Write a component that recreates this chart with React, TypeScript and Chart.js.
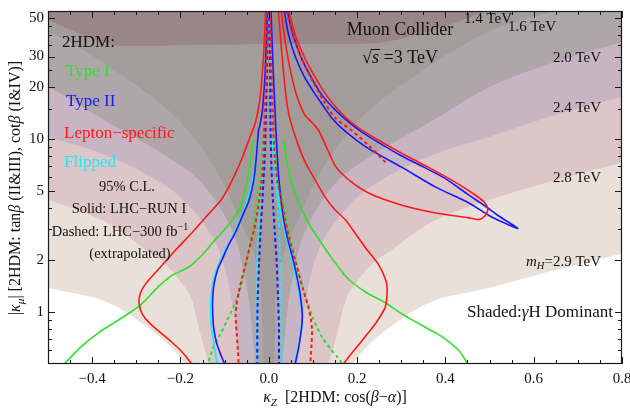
import React, { useEffect, useRef } from 'react';
import { Chart, registerables } from 'chart.js';

Chart.register(...registerables);

// ---------- axes ----------
const xTickValues = [-0.4, -0.2, 0, 0.2, 0.4, 0.6, 0.8];
const xMinorValues = [-0.45, -0.35, -0.3, -0.25, -0.15, -0.1, -0.05, 0.05, 0.1, 0.15, 0.25, 0.3, 0.35, 0.45, 0.5, 0.55, 0.65, 0.7, 0.75];
const yTickValues = [1, 2, 5, 10, 20, 30, 50];
const yMinorValues = [0.6, 0.7, 0.8, 0.9, 3, 4, 6, 7, 8, 9, 15, 25, 35, 40, 45];

// ---------- shaded gamma-H dominant regions (boundary: |kZ| -> |kmu|, symmetric) ----------
const shade29Abs = [0.17, 0.19, 0.22, 0.27, 0.36, 0.5, 0.65, 0.8];
const shade29Mu = [0.42, 0.5, 0.62, 0.8, 1.12, 1.38, 1.75, 2.17];
const shade28Abs = [0.12, 0.135, 0.155, 0.174, 0.2, 0.24, 0.28, 0.35, 0.4, 0.5, 0.65, 0.8];
const shade28Mu = [0.42, 0.5, 0.75, 1.17, 1.5, 1.95, 2.3, 3.1, 3.6, 4.45, 5.8, 7.3];
const shade24Abs = [0.055, 0.065, 0.075, 0.084, 0.097, 0.113, 0.15, 0.2, 0.3, 0.4, 0.5, 0.65, 0.8];
const shade24Mu = [0.42, 0.5, 0.8, 1.17, 1.7, 2.28, 3.3, 4.6, 6.7, 8.6, 10.3, 13.8, 17.5];
const shade20Abs = [0.025, 0.03, 0.038, 0.045, 0.055, 0.068, 0.1, 0.15, 0.25, 0.36, 0.5, 0.65, 0.8];
const shade20Mu = [0.42, 0.5, 0.8, 1.17, 1.6, 2.3, 3.6, 5.5, 8.5, 12.3, 20, 28, 36.4];
const shade16Abs = [0.01, 0.012, 0.016, 0.03, 0.045, 0.064, 0.11, 0.2, 0.35, 0.5, 0.65, 0.8];
const shade16Mu = [0.42, 0.5, 1.17, 2.0, 2.6, 3.3, 6, 12.5, 25, 42, 55, 70];
const shade14X = [-0.5, -0.45, -0.4, -0.35, -0.3, -0.2, 0, 0.2, 0.25, 0.3, 0.35, 0.4, 0.45, 0.5, 0.55];
const shade14Mu = [49, 43, 38, 35, 34.5, 34.8, 35.5, 35.5, 36, 38, 41, 45, 50, 56, 62];

// ---------- Type I (green) ----------
const greenSolidLeftX = [-0.035, -0.042, -0.048, -0.056, -0.063, -0.075, -0.086, -0.105, -0.125, -0.15, -0.177, -0.2, -0.22, -0.25, -0.29, -0.34, -0.385, -0.425, -0.46, -0.475];
const greenSolidLeftY = [9.85, 7.5, 5.8, 4.8, 4.1, 3.6, 3.3, 2.9, 2.55, 2.15, 1.85, 1.72, 1.62, 1.4, 1.1, 0.9, 0.76, 0.63, 0.51, 0.48];
const greenSolidRightX = [0.033, 0.042, 0.05, 0.058, 0.065, 0.08, 0.095, 0.113, 0.14, 0.151, 0.17, 0.188, 0.22, 0.264, 0.3, 0.325, 0.36, 0.392, 0.43, 0.449, 0.455];
const greenSolidRightY = [9.85, 7.2, 5.8, 5.0, 4.44, 3.7, 3.1, 2.65, 2.09, 1.92, 1.65, 1.49, 1.3, 1.13, 0.98, 0.9, 0.8, 0.72, 0.6, 0.51, 0.49];
const greenDashLeftX = [-0.012, -0.015, -0.019, -0.026, -0.033, -0.041, -0.05, -0.063, -0.078, -0.094, -0.11, -0.125, -0.136, -0.14];
const greenDashLeftY = [10, 8, 6, 4.6, 3.4, 2.5, 2.0, 1.4, 1.1, 0.9, 0.74, 0.63, 0.52, 0.48];
const greenDashRightX = [0.014, 0.017, 0.021, 0.031, 0.04, 0.05, 0.06, 0.072, 0.085, 0.1, 0.12, 0.14, 0.155, 0.167, 0.172];
const greenDashRightY = [10, 8, 6.2, 4.6, 3.4, 2.6, 2.0, 1.53, 1.2, 0.92, 0.72, 0.61, 0.55, 0.5, 0.48];

// ---------- Type II (blue) ----------
const blueSolidLeftX = [-0.003, -0.008, -0.014, -0.02, -0.023, -0.028, -0.034, -0.045, -0.057, -0.075, -0.093, -0.106, -0.116, -0.124, -0.127, -0.127, -0.125, -0.118, -0.108, -0.1, -0.098];
const blueSolidLeftY = [55, 25, 15, 12, 11.3, 8, 5.8, 4.4, 3.73, 2.9, 2.38, 2.0, 1.75, 1.45, 1.2, 1.0, 0.82, 0.66, 0.56, 0.5, 0.48];
const blueSolidRightX = [0.005, 0.01, 0.014, 0.016, 0.02, 0.023, 0.03, 0.038, 0.047, 0.057, 0.066, 0.072, 0.076, 0.074, 0.068, 0.062, 0.058];
const blueSolidRightY = [55, 25, 15, 11.3, 7.5, 5.8, 4.0, 3.0, 2.4, 1.92, 1.5, 1.22, 0.95, 0.8, 0.63, 0.53, 0.48];
const blueLoopX = [0.035, 0.045, 0.06, 0.08, 0.1, 0.12, 0.143, 0.175, 0.226, 0.3, 0.378, 0.453, 0.5, 0.53, 0.564, 0.52, 0.49, 0.45, 0.4, 0.35, 0.3, 0.25, 0.21, 0.18, 0.15, 0.12, 0.095, 0.075, 0.055, 0.042];
const blueLoopY = [55, 40, 30, 23, 19, 16, 13.2, 11.0, 8.8, 6.9, 5.27, 4.27, 3.6, 3.3, 3.04, 3.6, 4.1, 4.8, 5.9, 6.9, 8.0, 9.5, 11.0, 12.6, 14.8, 18, 23, 29, 40, 55];
const blueDashLeftX = [-0.002, -0.004, -0.006, -0.009, -0.014, -0.019, -0.022, -0.025, -0.026, -0.026];
const blueDashLeftY = [55, 25, 15, 8, 4.6, 2.8, 1.92, 1.2, 0.8, 0.48];
const blueDashRightX = [0.002, 0.003, 0.004, 0.006, 0.009, 0.014, 0.018, 0.021, 0.023, 0.023];
const blueDashRightY = [55, 25, 11.3, 7, 4.6, 2.8, 1.92, 1.2, 0.8, 0.48];

// ---------- Lepton-specific (red) ----------
const redSolidLeftX = [-0.007, -0.012, -0.02, -0.03, -0.041, -0.06, -0.077, -0.092, -0.108, -0.14, -0.175, -0.211, -0.245, -0.27, -0.287, -0.294, -0.29, -0.28, -0.265, -0.245, -0.22, -0.2, -0.177, -0.172];
const redSolidLeftY = [55, 30, 17, 12.5, 10.5, 7.8, 6.2, 5.2, 4.44, 3.6, 2.85, 2.28, 1.82, 1.55, 1.35, 1.17, 1.02, 0.92, 0.84, 0.76, 0.67, 0.6, 0.51, 0.48];
const redSolidRightX = [0.022, 0.028, 0.035, 0.042, 0.05, 0.065, 0.083, 0.105, 0.128, 0.15, 0.174, 0.2, 0.219, 0.249, 0.266, 0.268, 0.264, 0.245, 0.226, 0.2, 0.174, 0.168];
const redSolidRightY = [55, 35, 22, 15.5, 12.5, 9.5, 7.3, 5.8, 4.6, 3.9, 3.4, 2.75, 2.35, 1.87, 1.5, 1.3, 1.07, 0.88, 0.76, 0.63, 0.52, 0.49];
const redLoopX = [0.028, 0.035, 0.045, 0.06, 0.08, 0.1, 0.113, 0.135, 0.152, 0.185, 0.226, 0.3, 0.378, 0.453, 0.476, 0.49, 0.496, 0.49, 0.47, 0.424, 0.36, 0.3, 0.25, 0.21, 0.18, 0.155, 0.13, 0.1, 0.08, 0.06, 0.045];
const redLoopY = [55, 40, 28, 19, 14, 12.3, 11.2, 8.5, 6.9, 5.7, 4.87, 4.15, 3.73, 3.5, 3.42, 3.6, 3.9, 4.27, 4.7, 5.6, 6.9, 8.3, 9.8, 11.3, 12.9, 15, 18, 24, 30, 40, 55];
const redDashLeftX = [-0.003, -0.006, -0.01, -0.014, -0.02, -0.026, -0.033, -0.041, -0.05, -0.06, -0.068, -0.073, -0.075, -0.073, -0.07, -0.068];
const redDashLeftY = [55, 25, 12, 6.6, 4.8, 3.73, 3.0, 2.5, 2.0, 1.6, 1.3, 1.1, 0.95, 0.78, 0.6, 0.48];
const redDashRightX = [0.003, 0.006, 0.01, 0.014, 0.02, 0.027, 0.037, 0.047, 0.062, 0.078, 0.088, 0.095, 0.098, 0.097, 0.095, 0.094];
const redDashRightY = [55, 25, 12, 7.5, 5.6, 4.6, 3.4, 2.61, 1.9, 1.34, 1.1, 0.92, 0.78, 0.66, 0.55, 0.48];
const redDashLoopX = [0.04, 0.055, 0.075, 0.1, 0.125, 0.151, 0.188, 0.23, 0.265];
const redDashLoopY = [55, 40, 29, 21.5, 16.5, 13.2, 11.2, 9.0, 7.3];

// ---------- Flipped (cyan) ----------
const cyanSolidLeftX = [-0.025, -0.03, -0.037, -0.05, -0.062, -0.08, -0.098, -0.115, -0.126, -0.131, -0.132, -0.13, -0.124, -0.118, -0.115];
const cyanSolidLeftY = [9.9, 7.5, 5.8, 4.3, 3.6, 2.8, 2.3, 1.85, 1.5, 1.2, 1.0, 0.82, 0.65, 0.52, 0.48];
const cyanSolidRightX = [0.008, 0.012, 0.017, 0.025, 0.035, 0.048, 0.062, 0.072, 0.076, 0.074, 0.068, 0.06, 0.056];
const cyanSolidRightY = [9.9, 7.5, 5.8, 4.0, 3.0, 2.2, 1.55, 1.15, 0.95, 0.78, 0.64, 0.52, 0.48];
const cyanDashLeftX = [-0.011, -0.013, -0.016, -0.019, -0.022, -0.025, -0.027, -0.028, -0.029, -0.029];
const cyanDashLeftY = [10, 8, 6, 4.8, 3.7, 2.5, 1.6, 1.0, 0.7, 0.48];
const cyanDashRightX = [0.011, 0.013, 0.016, 0.02, 0.024, 0.027, 0.028, 0.029, 0.029];
const cyanDashRightY = [10, 8, 6, 4.6, 2.8, 1.6, 1.1, 0.7, 0.48];

// ---------- styling ----------
const GREEN = '#2ee02e';
const BLUE = '#1818ff';
const RED = '#ff1818';
const CYAN = '#18eef4';
const SERIF = '"Liberation Serif", "Times New Roman", serif';

const pts = (xs: number[], ys: number[]) => xs.map((x, i) => ({ x, y: ys[i] }));
const mirrored = (abs: number[], mu: number[]) => [
  ...abs.map((a, i) => ({ x: -a, y: mu[i] })).reverse(),
  ...abs.map((a, i) => ({ x: a, y: mu[i] })),
];

type Seg = { t: string; it?: boolean; sub?: boolean; sup?: boolean };

function segSize(size: number, s: Seg) {
  return s.sub || s.sup ? size * 0.7 : size;
}
function setFont(ctx: CanvasRenderingContext2D, size: number, s: Seg) {
  ctx.font = `${s.it ? 'italic ' : ''}${segSize(size, s).toFixed(1)}px ${SERIF}`;
}
function richWidth(ctx: CanvasRenderingContext2D, segs: Seg[], size: number) {
  let w = 0;
  for (const s of segs) {
    setFont(ctx, size, s);
    w += ctx.measureText(s.t).width;
  }
  return w;
}
function drawRich(
  ctx: CanvasRenderingContext2D,
  segs: Seg[],
  x: number,
  y: number,
  size: number,
  align: 'left' | 'center' | 'right',
  color: string
) {
  const w = richWidth(ctx, segs, size);
  let cx = align === 'left' ? x : align === 'center' ? x - w / 2 : x - w;
  ctx.textAlign = 'left';
  ctx.textBaseline = 'middle';
  ctx.fillStyle = color;
  const xs: number[] = [];
  for (const s of segs) {
    setFont(ctx, size, s);
    const dy = s.sub ? size * 0.3 : s.sup ? -size * 0.35 : 0;
    xs.push(cx);
    ctx.fillText(s.t, cx, y + dy);
    cx += ctx.measureText(s.t).width;
  }
  xs.push(cx);
  return xs;
}

const fmtX = (v: number) => {
  if (Math.abs(v) < 1e-9) return '0.0';
  const s = Math.abs(v).toFixed(1);
  return v < 0 ? '\u2212' + s : s;
};

const overlayPlugin = {
  id: 'overlay',
  afterDatasetsDraw(chart: any) {
    const { ctx, chartArea: a, scales } = chart;
    const xs = scales.x;
    const ys = scales.y;
    ctx.save();
    // frame
    ctx.strokeStyle = '#1a1a1a';
    ctx.lineWidth = 1.2;
    ctx.strokeRect(a.left + 0.5, a.top + 0.5, a.right - a.left - 1, a.bottom - a.top - 1);
    // ticks
    ctx.beginPath();
    ctx.lineWidth = 1;
    const xt = (v: number, len: number) => {
      const p = Math.round(xs.getPixelForValue(v)) + 0.5;
      ctx.moveTo(p, a.bottom);
      ctx.lineTo(p, a.bottom - len);
      ctx.moveTo(p, a.top);
      ctx.lineTo(p, a.top + len);
    };
    const yt = (v: number, len: number) => {
      const p = Math.round(ys.getPixelForValue(v)) + 0.5;
      ctx.moveTo(a.left, p);
      ctx.lineTo(a.left + len, p);
      ctx.moveTo(a.right, p);
      ctx.lineTo(a.right - len, p);
    };
    xTickValues.forEach((v) => xt(v, 7));
    xMinorValues.forEach((v) => xt(v, 4));
    yTickValues.forEach((v) => yt(v, 7));
    yMinorValues.forEach((v) => yt(v, 4));
    ctx.stroke();

    // legend texts
    drawRich(ctx, [{ t: '2HDM:' }], 62, 43, 17, 'left', '#111');
    drawRich(ctx, [{ t: 'Type I' }], 66, 72, 17, 'left', GREEN);
    drawRich(ctx, [{ t: 'Type II' }], 66, 102, 17, 'left', BLUE);
    drawRich(ctx, [{ t: 'Lepton\u2212specific' }], 64, 134, 17, 'left', RED);
    drawRich(ctx, [{ t: 'Flipped' }], 64, 163, 17, 'left', CYAN);
    drawRich(ctx, [{ t: '95% C.L.' }], 127, 187, 14.5, 'center', '#111');
    drawRich(ctx, [{ t: 'Solid: LHC\u2212RUN I' }], 129, 209, 14.5, 'center', '#111');
    drawRich(ctx, [{ t: 'Dashed: LHC\u2212300 fb' }, { t: '\u22121', sup: true }], 120, 232, 14.5, 'center', '#111');
    drawRich(ctx, [{ t: '(extrapolated)' }], 130, 254, 14.5, 'center', '#111');

    // collider info
    drawRich(ctx, [{ t: 'Muon Collider' }], 400, 30, 18, 'center', '#111');
    const sx = drawRich(ctx, [{ t: '\u221A' }, { t: 's', it: true }, { t: ' =3 TeV' }], 400, 58, 18, 'center', '#111');
    ctx.beginPath();
    ctx.strokeStyle = '#111';
    ctx.lineWidth = 1;
    ctx.moveTo(sx[1] - 1, 58 - 8.5);
    ctx.lineTo(sx[2] + 1, 58 - 8.5);
    ctx.stroke();

    // mass labels
    drawRich(ctx, [{ t: '1.4 TeV' }], 464, 19, 15, 'left', '#111');
    drawRich(ctx, [{ t: '1.6 TeV' }], 508, 27, 15, 'left', '#111');
    drawRich(ctx, [{ t: '2.0 TeV' }], 601, 58, 15, 'right', '#111');
    drawRich(ctx, [{ t: '2.4 TeV' }], 601, 108, 15, 'right', '#111');
    drawRich(ctx, [{ t: '2.8 TeV' }], 601, 178, 15, 'right', '#111');
    drawRich(ctx, [{ t: 'm', it: true }, { t: 'H', it: true, sub: true }, { t: '=2.9 TeV' }], 601, 262, 15, 'right', '#111');
    drawRich(ctx, [{ t: 'Shaded:' }, { t: '\u03B3', it: true }, { t: 'H Dominant' }], 613, 313, 17, 'right', '#111');

    // axis titles
    drawRich(
      ctx,
      [{ t: '\u03BA', it: true }, { t: 'Z', it: true, sub: true }, { t: '  [2HDM: cos(' }, { t: '\u03B2', it: true }, { t: '\u2212' }, { t: '\u03B1', it: true }, { t: ')]' }],
      335,
      398,
      16,
      'center',
      '#111'
    );
    ctx.save();
    ctx.translate(16, 188);
    ctx.rotate(-Math.PI / 2);
    drawRich(
      ctx,
      [
        { t: '|' },
        { t: '\u03BA', it: true },
        { t: '\u03BC', it: true, sub: true },
        { t: '| [2HDM: tan' },
        { t: '\u03B2', it: true },
        { t: ' (II&III), cot' },
        { t: '\u03B2', it: true },
        { t: ' (I&IV)]' },
      ],
      0,
      0,
      16,
      'center',
      '#111'
    );
    ctx.restore();
    ctx.restore();
  },
};

function band(data: any[], color: string, order: number) {
  return {
    data,
    borderWidth: 0,
    borderColor: 'rgba(0,0,0,0)',
    backgroundColor: color,
    fill: 'end',
    pointRadius: 0,
    cubicInterpolationMode: 'monotone',
    order,
  };
}

function curve(data: any[], color: string, dashed: boolean, order: number) {
  return {
    data,
    borderColor: color,
    borderWidth: dashed ? 2 : 1.6,
    borderDash: dashed ? [3.5, 3] : [],
    backgroundColor: color,
    fill: false,
    pointRadius: 0,
    tension: 0.25,
    order,
  };
}

export default function App() {
  const ref = useRef<HTMLCanvasElement | null>(null);
  useEffect(() => {
    if (!ref.current) return;
    const datasets: any[] = [
      band(mirrored(shade29Abs, shade29Mu), '#e9e1d9', 100),
      band(mirrored(shade28Abs, shade28Mu), '#dcc6c8', 99),
      band(mirrored(shade24Abs, shade24Mu), '#c8b5c3', 98),
      band(mirrored(shade20Abs, shade20Mu), '#afa6aa', 97),
      band(mirrored(shade16Abs, shade16Mu), '#a49c9a', 96),
      band(pts(shade14X, shade14Mu), '#988688', 95),

      curve(pts(greenSolidLeftX, greenSolidLeftY), GREEN, false, 10),
      curve(pts(greenSolidRightX, greenSolidRightY), GREEN, false, 10),
      curve(pts(greenDashLeftX, greenDashLeftY), GREEN, true, 9),
      curve(pts(greenDashRightX, greenDashRightY), GREEN, true, 9),

      curve(pts(cyanSolidLeftX, cyanSolidLeftY), CYAN, false, 8),
      curve(pts(cyanSolidRightX, cyanSolidRightY), CYAN, false, 8),
      curve(pts(cyanDashLeftX, cyanDashLeftY), CYAN, true, 7),
      curve(pts(cyanDashRightX, cyanDashRightY), CYAN, true, 7),

      curve(pts(blueSolidLeftX, blueSolidLeftY), BLUE, false, 6),
      curve(pts(blueSolidRightX, blueSolidRightY), BLUE, false, 6),
      curve(pts(blueLoopX, blueLoopY), BLUE, false, 6),
      curve(pts(blueDashLeftX, blueDashLeftY), BLUE, true, 5),
      curve(pts(blueDashRightX, blueDashRightY), BLUE, true, 5),

      curve(pts(redSolidLeftX, redSolidLeftY), RED, false, 4),
      curve(pts(redSolidRightX, redSolidRightY), RED, false, 4),
      curve(pts(redLoopX, redLoopY), RED, false, 4),
      curve(pts(redDashLeftX, redDashLeftY), RED, true, 3),
      curve(pts(redDashRightX, redDashRightY), RED, true, 3),
      curve(pts(redDashLoopX, redDashLoopY), RED, true, 3),
    ];

    const chart = new Chart(ref.current, {
      type: 'line',
      data: { datasets },
      options: {
        animation: false,
        responsive: false,
        devicePixelRatio: 1,
        layout: { padding: { top: 11, right: 8, left: 0, bottom: 0 } },
        plugins: { legend: { display: false }, tooltip: { enabled: false } },
        elements: { line: { capBezierPoints: false } },
        scales: {
          x: {
            type: 'linear',
            min: -0.5,
            max: 0.8,
            grid: { display: false, drawTicks: false },
            border: { display: false },
            afterBuildTicks: (s: any) => {
              s.ticks = xTickValues.map((v) => ({ value: v }));
            },
            afterFit: (s: any) => {
              s.height = 46;
              s.paddingLeft = 0;
              s.paddingRight = 0;
            },
            ticks: {
              autoSkip: false,
              maxRotation: 0,
              padding: 6,
              color: '#111',
              font: { family: SERIF, size: 15 },
              callback: (v: any) => fmtX(Number(v)),
            },
          },
          y: {
            type: 'logarithmic',
            min: 0.5,
            max: 55,
            grid: { display: false, drawTicks: false },
            border: { display: false },
            afterBuildTicks: (s: any) => {
              s.ticks = yTickValues.map((v) => ({ value: v }));
            },
            afterFit: (s: any) => {
              s.width = 48;
              s.paddingTop = 0;
              s.paddingBottom = 0;
            },
            ticks: {
              autoSkip: false,
              padding: 4,
              color: '#111',
              font: { family: SERIF, size: 15 },
              callback: (v: any) => String(v),
            },
          },
        },
      } as any,
      plugins: [overlayPlugin],
    });
    return () => chart.destroy();
  }, []);

  return (
    <div style={{ position: 'absolute', left: 0, top: 0, width: 630, height: 410 }}>
      <canvas ref={ref} width={630} height={410} style={{ display: 'block', width: 630, height: 410 }} />
    </div>
  );
}
